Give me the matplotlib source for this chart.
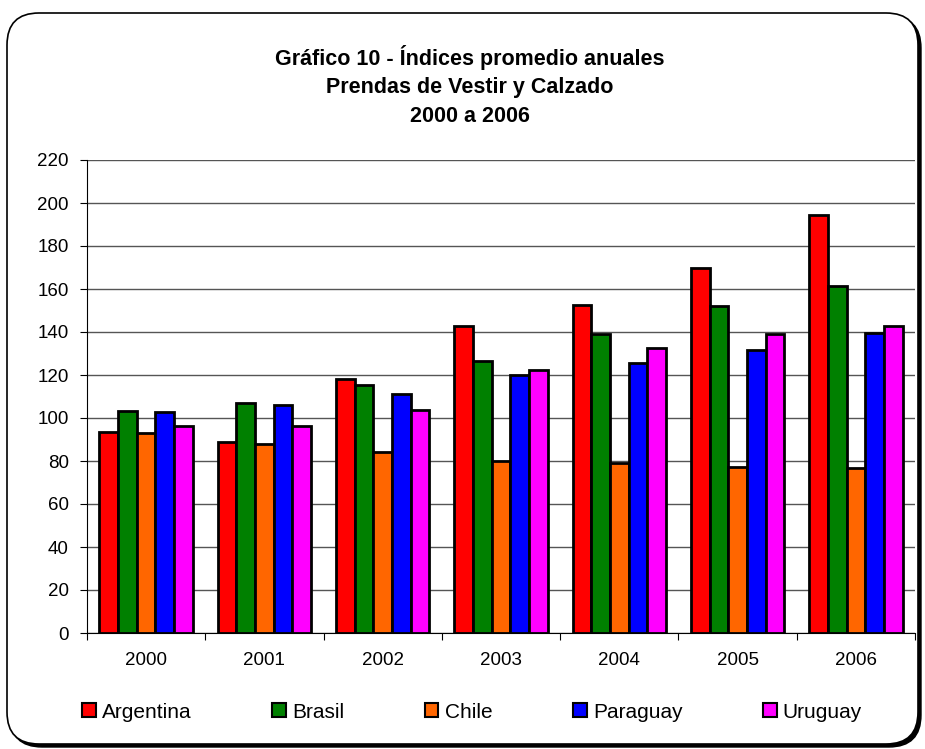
import matplotlib.pyplot as plt
import numpy as np
from matplotlib.patches import FancyBboxPatch, Patch

plt.rcParams['font.family'] = ['Liberation Sans', 'DejaVu Sans']

years = ['2000', '2001', '2002', '2003', '2004', '2005', '2006']
argentina = [93.3, 89.0, 118.1, 142.8, 152.6, 169.9, 194.6]
brasil = [103.3, 107.1, 115.2, 126.7, 138.9, 152.0, 161.4]
chile = [92.9, 87.8, 84.0, 80.0, 78.9, 77.4, 76.7]
paraguay = [102.8, 105.9, 111.0, 120.0, 125.6, 131.5, 139.4]
uruguay = [96.4, 96.3, 103.9, 122.3, 132.7, 139.1, 142.7]

series = [('Argentina', argentina, '#FF0000'),
          ('Brasil', brasil, '#008000'),
          ('Chile', chile, '#FF6600'),
          ('Paraguay', paraguay, '#0000FF'),
          ('Uruguay', uruguay, '#FF00FF')]


def main():
    fig = plt.figure(figsize=(9.25, 7.49), dpi=100)

    # marco redondeado con sombra (en pixeles)
    shadow = FancyBboxPatch((10, 2), 911, 731, boxstyle='round,pad=0,rounding_size=32',
                            transform=None, facecolor='black', edgecolor='black', zorder=0)
    frame = FancyBboxPatch((7, 5), 911, 731, boxstyle='round,pad=0,rounding_size=32',
                           transform=None, facecolor='white', edgecolor='black',
                           linewidth=1.2, zorder=1)
    fig.patches.extend([shadow, frame])

    ax = fig.add_axes([87 / 925, 1 - 633 / 749, (915 - 87) / 925, (633 - 160) / 749])
    ax.set_zorder(5)
    ax.set_facecolor('none')

    x = np.arange(len(years))
    w = 0.158
    for i, (name, vals, color) in enumerate(series):
        ax.bar(x + (i - 2) * w, vals, w, color=color, edgecolor='black',
               linewidth=2, label=name, zorder=3)

    ax.set_xlim(-0.5, len(years) - 0.5)
    ax.set_ylim(0, 220)
    ax.set_yticks(np.arange(0, 221, 20))
    ax.yaxis.grid(True, color='#555555', linewidth=1)
    ax.set_axisbelow(True)

    ax.set_xticks(np.arange(-0.5, len(years), 1))
    ax.set_xticklabels([])
    ax.set_xticks(x, minor=True)
    ax.set_xticklabels(years, minor=True)
    ax.tick_params(axis='x', which='major', length=5, direction='out', color='black')
    ax.tick_params(axis='x', which='minor', length=0, pad=14, labelsize=13.5)
    ax.tick_params(axis='y', length=5, pad=8, labelsize=13.5)

    ax.spines['top'].set_visible(False)
    ax.spines['right'].set_visible(False)
    ax.spines['left'].set_color('black')
    ax.spines['bottom'].set_color('black')

    fig.text(470 / 925, 1 - 86 / 749,
             'Gráfico 10 - Índices promedio anuales\nPrendas de Vestir y Calzado\n2000 a 2006',
             ha='center', va='center', fontsize=15.5, fontweight='bold', linespacing=1.45)

    handles = [Patch(facecolor=c, edgecolor='black', linewidth=1.5) for _, _, c in series]
    fig.legend(handles, [n for n, _, _ in series], loc='center',
               bbox_to_anchor=(472 / 925, 1 - 712 / 749), ncol=5, frameon=False,
               fontsize=15, handlelength=0.67, handleheight=0.67,
               handletextpad=0.3, columnspacing=3.85)

    fig.savefig('out.png', dpi=100)


if __name__ == '__main__':
    main()
